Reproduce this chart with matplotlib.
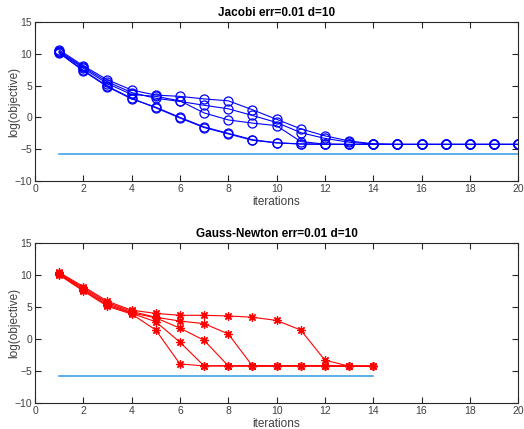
import numpy as np
import matplotlib
matplotlib.use("Agg")
import matplotlib.pyplot as plt

plt.rcParams["font.family"] = ["Liberation Sans", "DejaVu Sans"]

# log objective per iteration, five runs per solver
iters_jacobi = np.arange(1, 21)
jacobi_runs = [
    [10.6, 8.1, 5.9, 4.3, 3.5, 3.3, 2.9, 2.6, 1.2, -0.3, -1.8, -2.9, -3.7, -4.15, -4.25, -4.25, -4.25, -4.25, -4.25, -4.25],
    [10.4, 7.9, 5.6, 3.9, 3.0, 2.5, 1.9, 1.35, 0.3, -0.8, -2.4, -3.3, -3.9, -4.2, -4.25, -4.25, -4.25, -4.25, -4.25, -4.25],
    [10.3, 7.7, 5.3, 3.6, 3.3, 2.6, 0.7, -0.4, -0.9, -1.3, -3.8, -4.2, -4.25, -4.25, -4.25, -4.25, -4.25, -4.25, -4.25, -4.25],
    [10.2, 7.4, 4.9, 3.0, 1.5, -0.1, -1.6, -2.6, -3.6, -4.0, -4.2, -4.25, -4.25, -4.25, -4.25, -4.25, -4.25, -4.25, -4.25, -4.25],
    [10.1, 7.3, 4.8, 2.9, 1.6, 0.0, -1.5, -2.5, -3.5, -4.0, -4.15, -4.2, -4.25, -4.25, -4.25, -4.25, -4.25, -4.25, -4.25, -4.25],
]

iters_gn = np.arange(1, 15)
gn_runs = [
    [10.4, 8.2, 5.9, 4.5, 4.0, 3.7, 3.7, 3.6, 3.4, 2.9, 1.4, -3.3, -4.25, -4.25],
    [10.3, 8.0, 5.7, 4.3, 3.4, 2.8, 2.4, 0.8, -4.2, -4.2, -4.2, -4.2, -4.25, -4.25],
    [10.2, 7.8, 5.5, 4.1, 3.3, 1.7, -0.2, -4.2, -4.2, -4.2, -4.2, -4.2, -4.25, -4.25],
    [10.1, 7.6, 5.3, 4.0, 2.7, -0.5, -4.2, -4.2, -4.2, -4.2, -4.2, -4.2, -4.25, -4.25],
    [10.0, 7.5, 5.1, 3.9, 1.4, -3.9, -4.2, -4.2, -4.2, -4.2, -4.2, -4.2, -4.25, -4.25],
]

# noise floor log(err) level
floor_level = -5.82

fig = plt.figure(figsize=(5.24, 4.29), dpi=100)
ax1 = fig.add_axes([0.0668, 0.578, 0.922, 0.371])
ax2 = fig.add_axes([0.0668, 0.0606, 0.922, 0.373])

def style_axes(ax, title):
    ax.set_xlim(0, 20)
    ax.set_ylim(-10, 15)
    ax.set_xticks(np.arange(0, 21, 2))
    ax.set_yticks(np.arange(-10, 16, 5))
    ax.tick_params(direction="in", top=True, right=True, length=4.5, width=0.8,
                   color="#262626", labelcolor="#404040", labelsize=7.5, pad=2)
    for s in ax.spines.values():
        s.set_color("#262626")
        s.set_linewidth(0.8)
    ax.set_title(title, fontsize=8.5, fontweight="bold", pad=4)
    ax.set_xlabel("iterations", fontsize=8.5, color="#404040")
    ax.set_ylabel("log(objective)", fontsize=8.5, color="#404040")
    h = ax.get_position().height * fig.get_figheight() * fig.dpi
    ax.xaxis.set_label_coords(0.5, -15.0 / h)
    ax.yaxis.set_label_coords(-0.031, 0.5)

for run in jacobi_runs:
    ax1.plot(iters_jacobi, run, color="#0000ff", lw=0.8, marker="o", ms=6.5,
             mfc="none", mew=0.9)
ax1.plot([iters_jacobi[0], iters_jacobi[-1]], [floor_level, floor_level],
         color="#2d9be0", lw=1.1)
style_axes(ax1, "Jacobi err=0.01 d=10")

for run in gn_runs:
    ax2.plot(iters_gn, run, color="#ff0000", lw=0.8, marker=(8, 2, 0), ms=6,
             mew=0.9)
ax2.plot([iters_gn[0], iters_gn[-1]], [floor_level, floor_level],
         color="#2d9be0", lw=1.1)
style_axes(ax2, "Gauss-Newton err=0.01 d=10")

fig.savefig("out.png", dpi=100)
